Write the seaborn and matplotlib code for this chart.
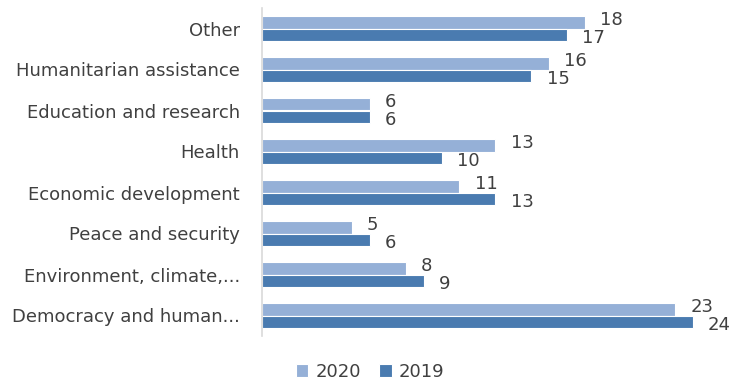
import matplotlib
matplotlib.use("Agg")
import matplotlib.pyplot as plt
import seaborn as sns
import pandas as pd

categories = ["Other", "Humanitarian assistance", "Education and research", "Health",
              "Economic development", "Peace and security", "Environment, climate,...",
              "Democracy and human..."]
values_2020 = [18, 16, 6, 13, 11, 5, 8, 23]
values_2019 = [17, 15, 6, 10, 13, 6, 9, 24]
series = ["2020", "2019"]
colors = ["#95B0D7", "#4A7BB0"]

df = pd.DataFrame({
    "category": categories * 2,
    "value": values_2020 + values_2019,
    "year": [series[0]] * len(categories) + [series[1]] * len(categories),
})

sns.set_style("white")
plt.rcParams["font.family"] = ["DejaVu Sans"]

W, H = 732, 382
fig = plt.figure(figsize=(W / 100, H / 100), dpi=100)
left, right, top, bottom = 262, 720, 8, 336
ax = fig.add_axes([left / W, 1 - bottom / H, (right - left) / W, (bottom - top) / H])

sns.barplot(data=df, y="category", x="value", hue="year", order=categories,
            hue_order=series, palette=colors, saturation=1, orient="h", width=0.62,
            edgecolor="white", linewidth=0.8, ax=ax, legend=True)

ax.set_xlim(0, (right - left) / 17.95)
ax.set_xlabel("")
ax.set_ylabel("")
ax.set_xticks([])
for s in ["top", "right", "bottom"]:
    ax.spines[s].set_visible(False)
ax.spines["left"].set_color("#D9D9D9")
ax.spines["left"].set_linewidth(1.2)
fs = 13
text_color = "#404040"
ax.tick_params(axis="y", length=0, pad=16, labelsize=fs, labelcolor=text_color)

for cont, dy in zip(ax.containers, [1.5, -2]):
    for bar in cont:
        w = bar.get_width()
        yc = bar.get_y() + bar.get_height() / 2
        ax.annotate(f"{w:.0f}", xy=(w, yc), xytext=(11, dy), textcoords="offset points",
                    ha="left", va="center", fontsize=fs, color=text_color,
                    annotation_clip=False)

leg = ax.legend(loc="center", ncol=2, frameon=False,
                fontsize=fs, handlelength=0.7, handleheight=0.7,
                columnspacing=1.0, handletextpad=0.4)
for t in leg.get_texts():
    t.set_color(text_color)
leg.set_bbox_to_anchor((370 / W, 1 - 372 / H), transform=fig.transFigure)

fig.savefig("out.png", dpi=100)
